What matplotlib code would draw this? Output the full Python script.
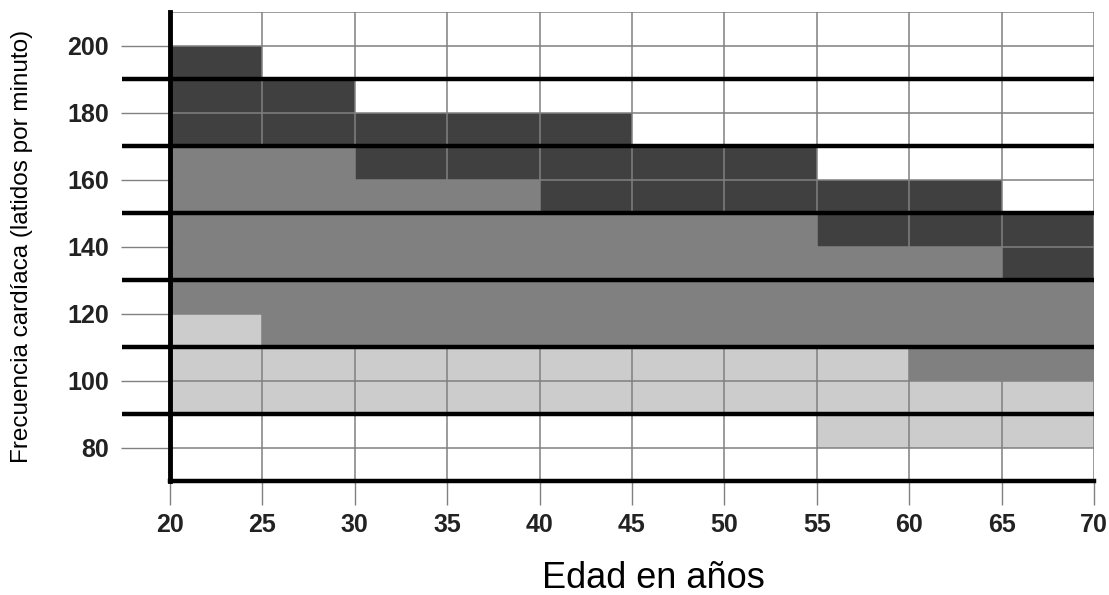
"""Heart-rate zones by age: shaded grid chart, written to out.png."""
import matplotlib
matplotlib.use("Agg")
import matplotlib.pyplot as plt

# age columns (left edge of each 5-year band)
ages = [20, 25, 30, 35, 40, 45, 50, 55, 60, 65]
# zone limits per column (latidos por minuto)
light_lo = [90, 90, 90, 90, 90, 90, 90, 80, 80, 80]
mid_lo = [120, 110, 110, 110, 110, 110, 110, 110, 100, 100]
dark_lo = [170, 170, 160, 160, 150, 150, 150, 140, 140, 130]
dark_hi = [200, 190, 180, 180, 180, 170, 170, 160, 160, 150]

x_ticks = [20, 25, 30, 35, 40, 45, 50, 55, 60, 65, 70]
y_ticks = [80, 100, 120, 140, 160, 180, 200]
y_grid = [80, 100, 120, 140, 160, 180, 200, 210]
y_thick = [90, 110, 130, 150, 170, 190]

plt.rcParams["font.family"] = ["Liberation Sans", "DejaVu Sans"]

fig = plt.figure(figsize=(11.09, 5.95), dpi=100)
ax = fig.add_axes([170 / 1109, 1 - 481 / 595, (1094 - 170) / 1109, (481 - 12) / 595])

zones = [
    (light_lo, mid_lo, "#cccccc"),
    (mid_lo, dark_lo, "#808080"),
    (dark_lo, dark_hi, "#404040"),
]
for lo, hi, col in zones:
    ax.bar(ages, [h - l for l, h in zip(lo, hi)], bottom=lo, width=5,
           align="edge", color=col, linewidth=0, zorder=1)

ax.set_xlim(20, 70)
ax.set_ylim(70, 210)

# thin grid
for x in x_ticks[1:]:
    ax.axvline(x, color="#808080", lw=1.1, zorder=2)
for y in y_grid:
    ax.axhline(y, color="#808080", lw=1.1, zorder=2)

# thick zone separators, running out past the left axis
for y in y_thick:
    ax.plot([17.4, 70], [y, y], color="black", lw=3.2, zorder=4,
            clip_on=False, solid_capstyle="butt")

for side in ["top", "right"]:
    ax.spines[side].set_visible(False)
ax.spines["left"].set_linewidth(3.5)
ax.spines["bottom"].set_linewidth(3.2)
ax.spines["left"].set_zorder(5)
ax.spines["bottom"].set_zorder(5)

ax.set_xticks(x_ticks)
ax.set_yticks(y_ticks)
ax.tick_params(axis="y", length=35, width=1, color="#808080", pad=9,
               labelsize=18)
ax.tick_params(axis="x", length=17, width=1, color="#808080", pad=6,
               labelsize=18)
for lab in ax.get_xticklabels() + ax.get_yticklabels():
    lab.set_fontweight("bold")
    lab.set_color("#222222")

ax.set_xlabel("Edad en años", fontsize=26)
ax.xaxis.set_label_coords(0.523, -0.171)
ax.set_ylabel("Frecuencia cardíaca (latidos por minuto)", fontsize=17.5,
              va="center")
ax.yaxis.set_label_coords(-0.160, 0.5)

fig.savefig("out.png", dpi=100)
